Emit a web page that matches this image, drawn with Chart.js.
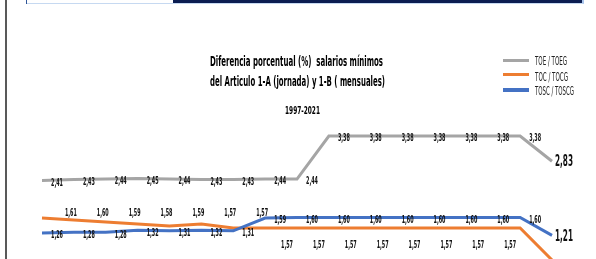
<!DOCTYPE html>
<html>
<head>
<meta charset="utf-8">
<script src="https://cdn.jsdelivr.net/npm/chart.js@4"></script>
<style>
body { margin:0; background:#fff; width:596px; height:259px; overflow:hidden; position:relative;
       font-family:"Liberation Sans Narrow","DejaVu Sans Condensed","Liberation Sans",sans-serif; }
#grafico { position:absolute; left:0; top:0; }
.borde-izq { position:absolute; left:5px; top:0; width:2px; height:259px; background:#595959; }
.linea-sup { position:absolute; left:26px; top:3px; width:147px; height:1px; background:#c6d9f1; }
.marca-sup { position:absolute; left:26px; top:0; width:1px; height:4px; background:#2f5597; }
.barra-sup { position:absolute; left:173px; top:0; width:409px; height:3px; background:#0b1d51;
             border-right:2px solid #a9c4eb; border-bottom:1px solid #c6d9f1; }
.titulo { position:absolute; white-space:nowrap; font-weight:bold; color:#000; transform-origin:0 50%; }
.ley-linea { position:absolute; left:503px; width:26px; }
.ley-texto { position:absolute; left:535px; white-space:nowrap; font-size:12px; line-height:12px; color:#222; transform-origin:0 50%; }
</style>
</head>
<body>
<div class="borde-izq"></div>
<div class="linea-sup"></div>
<div class="marca-sup"></div>
<div class="barra-sup"></div>

<canvas id="grafico" width="596" height="259"></canvas>

<div class="titulo" data-ancho="173" style="left:210px; top:54px; font-size:14px; line-height:14px;">Diferencia porcentual (%)&nbsp; salarios mínimos</div>
<div class="titulo" data-ancho="175" style="left:210px; top:74px; font-size:14px; line-height:14px;">del Articulo 1-A (jornada) y 1-B ( mensuales)</div>
<div class="titulo" data-ancho="35" style="left:285px; top:106px; font-size:10px; line-height:10px;">1997-2021</div>

<div class="ley-linea" style="top:59px; height:3px; background:#a5a5a5;"></div>
<div class="ley-linea" style="top:73px; height:3px; background:#ed7d31;"></div>
<div class="ley-linea" style="top:88px; height:4px; background:#4472c4;"></div>
<div class="ley-texto" data-ancho="32" style="top:55px;">TOE / TOEG</div>
<div class="ley-texto" data-ancho="33" style="top:71px;">TOC / TOCG</div>
<div class="ley-texto" data-ancho="39" style="top:85px;">TOSC / TOSCG</div>

<script>
// DATOS
const anios = ['2005','2006','2007','2008','2009','2010','2011','2012','2013','2014','2015','2016','2017','2018','2019','2020','2021'];
const serieToe  = [2.41, 2.43, 2.44, 2.45, 2.44, 2.43, 2.43, 2.44, 2.44, 3.38, 3.38, 3.38, 3.38, 3.38, 3.38, 3.38, 2.83];
const serieToc  = [1.62, 1.61, 1.60, 1.59, 1.58, 1.59, 1.57, 1.57, 1.57, 1.57, 1.57, 1.57, 1.57, 1.57, 1.57, 1.57, 1.41];
const serieTosc = [1.26, 1.28, 1.28, 1.32, 1.31, 1.32, 1.31, 1.59, 1.60, 1.60, 1.60, 1.60, 1.60, 1.60, 1.60, 1.60, 1.21];
const nombres = ['TOE / TOEG', 'TOC / TOCG', 'TOSC / TOSCG'];

const FUENTE = '"Liberation Sans Narrow","DejaVu Sans Condensed","Liberation Sans",sans-serif';

// ajustar ancho de textos html
document.querySelectorAll('[data-ancho]').forEach(el => {
    const w = el.getBoundingClientRect().width;
    el.style.transform = `scaleX(${el.dataset.ancho / w})`;
});

function formato(v) { return v.toFixed(2).replace('.', ','); }

function escribir(ctx, txt, x, y, tam, ancho) {
    ctx.font = `700 ${tam}px ${FUENTE}`;
    const sx = ancho / ctx.measureText(tam > 12 ? '2,83' : '2,41').width;
    ctx.save();
    ctx.translate(x, y);
    ctx.scale(sx, 1);
    ctx.fillText(txt, 0, 0);
    ctx.restore();
}

// etiquetas de datos
const pluginEtiquetas = {
    id: 'etiquetas',
    afterDatasetsDraw(chart) {
        const ctx = chart.ctx;
        ctx.save();
        ctx.fillStyle = '#111';
        ctx.textAlign = 'center';
        ctx.textBaseline = 'middle';
        chart.data.datasets.forEach((ds, d) => {
            const pts = chart.getDatasetMeta(d).data;
            const n = ds.data.length;
            if (ds.label === 'TOC / TOCG') {
                // fila de arriba (2-8) y fila de abajo (9-16)
                const arriba = Math.min(...pts.slice(1, 8).map(p => p.y)) - 7;
                const abajo = Math.max(...pts.slice(8, 16).map(p => p.y)) + 17;
                for (let i = 1; i < 16; i++) {
                    if (i < 8) escribir(ctx, formato(ds.data[i]), pts[i].x - 3, arriba, 11, 12);
                    else escribir(ctx, formato(ds.data[i]), pts[i].x - 10, abajo, 11, 12);
                }
                return;
            }
            pts.forEach((p, i) => {
                if (i === n - 1) escribir(ctx, formato(ds.data[i]), p.x + 12, p.y + 1, 16, 18);
                else escribir(ctx, formato(ds.data[i]), p.x + 15, p.y + 2.5, 11, 12);
            });
        });
        ctx.restore();
    }
};

new Chart(document.getElementById('grafico'), {
    type: 'line',
    data: {
        labels: anios,
        datasets: [
            { label: nombres[0], data: serieToe, borderColor: '#a5a5a5', yAxisID: 'y', order: 3 },
            { label: nombres[1], data: serieToc, borderColor: '#ed7d31', yAxisID: 'y2', order: 2 },
            { label: nombres[2], data: serieTosc, borderColor: '#4472c4', yAxisID: 'y', order: 1 }
        ]
    },
    options: {
        responsive: false,
        devicePixelRatio: 1,
        animation: false,
        elements: { point: { radius: 0 }, line: { borderWidth: 3, tension: 0 } },
        layout: { padding: { left: 42, right: 44, top: 0, bottom: 0 } },
        plugins: { legend: { display: false }, title: { display: false }, tooltip: { enabled: false } },
        scales: {
            x: { display: false, offset: false },
            y: { display: false, min: 0.695, max: 6.35 },
            y2: { display: false, min: 1.415, max: 2.71 }
        }
    },
    plugins: [pluginEtiquetas]
});
</script>
</body>
</html>
